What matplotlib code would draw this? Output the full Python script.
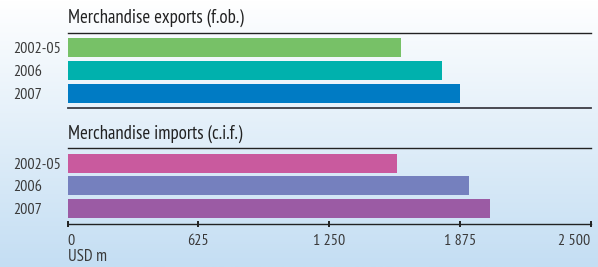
import numpy as np
import matplotlib
matplotlib.use("Agg")
import matplotlib.pyplot as plt

plt.rcParams['font.family'] = ['PT Sans Narrow', 'DejaVu Sans']

# Data (USD m)
years = ["2002-05", "2006", "2007"]
exports = [1595, 1790, 1875]
imports = [1575, 1920, 2020]
export_colors = ["#77c167", "#00b1ad", "#007bc4"]
import_colors = ["#c95a9e", "#7580be", "#9b5ba4"]
xticks = [0, 625, 1250, 1875, 2500]
xtick_labels = ["0", "625", "1 250", "1 875", "2 500"]

W, H = 598, 267
txt = "#3a3a3a"

fig = plt.figure(figsize=(W / 100, H / 100), dpi=100)

# background gradient
bg = fig.add_axes([0, 0, 1, 1], zorder=-10)
top = np.array([1.0, 1.0, 1.0])
bot = np.array([0xc4, 0xde, 0xf3]) / 255
t = np.linspace(0, 1, 256)[:, None]
grad = (top * (1 - t) + bot * t)[:, None, :]
bg.imshow(grad, aspect="auto", extent=[0, 1, 0, 1], origin="upper")
bg.axis("off")


def fy(px):
    return 1 - px / H


x0, x1 = 67.5 / W, 590.5 / W


def panel(top_px, bot_px, first_center, spacing, values, colors, title):
    ax = fig.add_axes([x0, fy(bot_px), x1 - x0, (bot_px - top_px) / H])
    ax.set_facecolor("none")
    y = np.arange(len(values))
    ax.barh(y, values, height=19 / spacing, color=colors, zorder=3)
    ax.set_xlim(0, 2500)
    ax.set_ylim(2 + (bot_px - first_center - 2 * spacing) / spacing,
                -(first_center - top_px) / spacing)
    ax.set_yticks(y)
    ax.set_yticklabels(years, fontsize=11.5, color=txt, ha="left")
    # labels left-aligned at x ~ 13 px
    ax.tick_params(axis="y", length=0, pad=(67.5 - 13) * 0.72)
    for s in ["left", "right"]:
        ax.spines[s].set_visible(False)
    ax.spines["top"].set_color("#222222")
    ax.spines["top"].set_linewidth(1.0)
    ax.spines["bottom"].set_color("#3c3c44")
    ax.spines["bottom"].set_linewidth(1.3)
    ax.text(0, 1 + 14.5 / (bot_px - top_px), title, transform=ax.transAxes,
            fontsize=13.5, color="#222222", ha="left", va="center")
    return ax


ax1 = panel(32.5, 107.5, 47.5, 23, exports, export_colors,
            "Merchandise exports (f.ob.)")
ax1.set_xticks([])

ax2 = panel(148.3, 224.3, 163.3, 22.6, imports, import_colors,
            "Merchandise imports (c.i.f.)")
ax2.spines["bottom"].set_color("#222222")
ax2.spines["bottom"].set_linewidth(1.0)
ax2.set_xticks(xticks)
ax2.set_xticklabels(xtick_labels, fontsize=11.5, color=txt)
ax2.tick_params(axis="x", direction="inout", length=4, width=1.4,
                color="#222222", pad=5)
labs = ax2.get_xticklabels()
labs[0].set_ha("left")
labs[-1].set_ha("right")

fig.text(x0, fy(257), "USD m", fontsize=12, color=txt, ha="left", va="center")

fig.savefig("out.png", dpi=100)
